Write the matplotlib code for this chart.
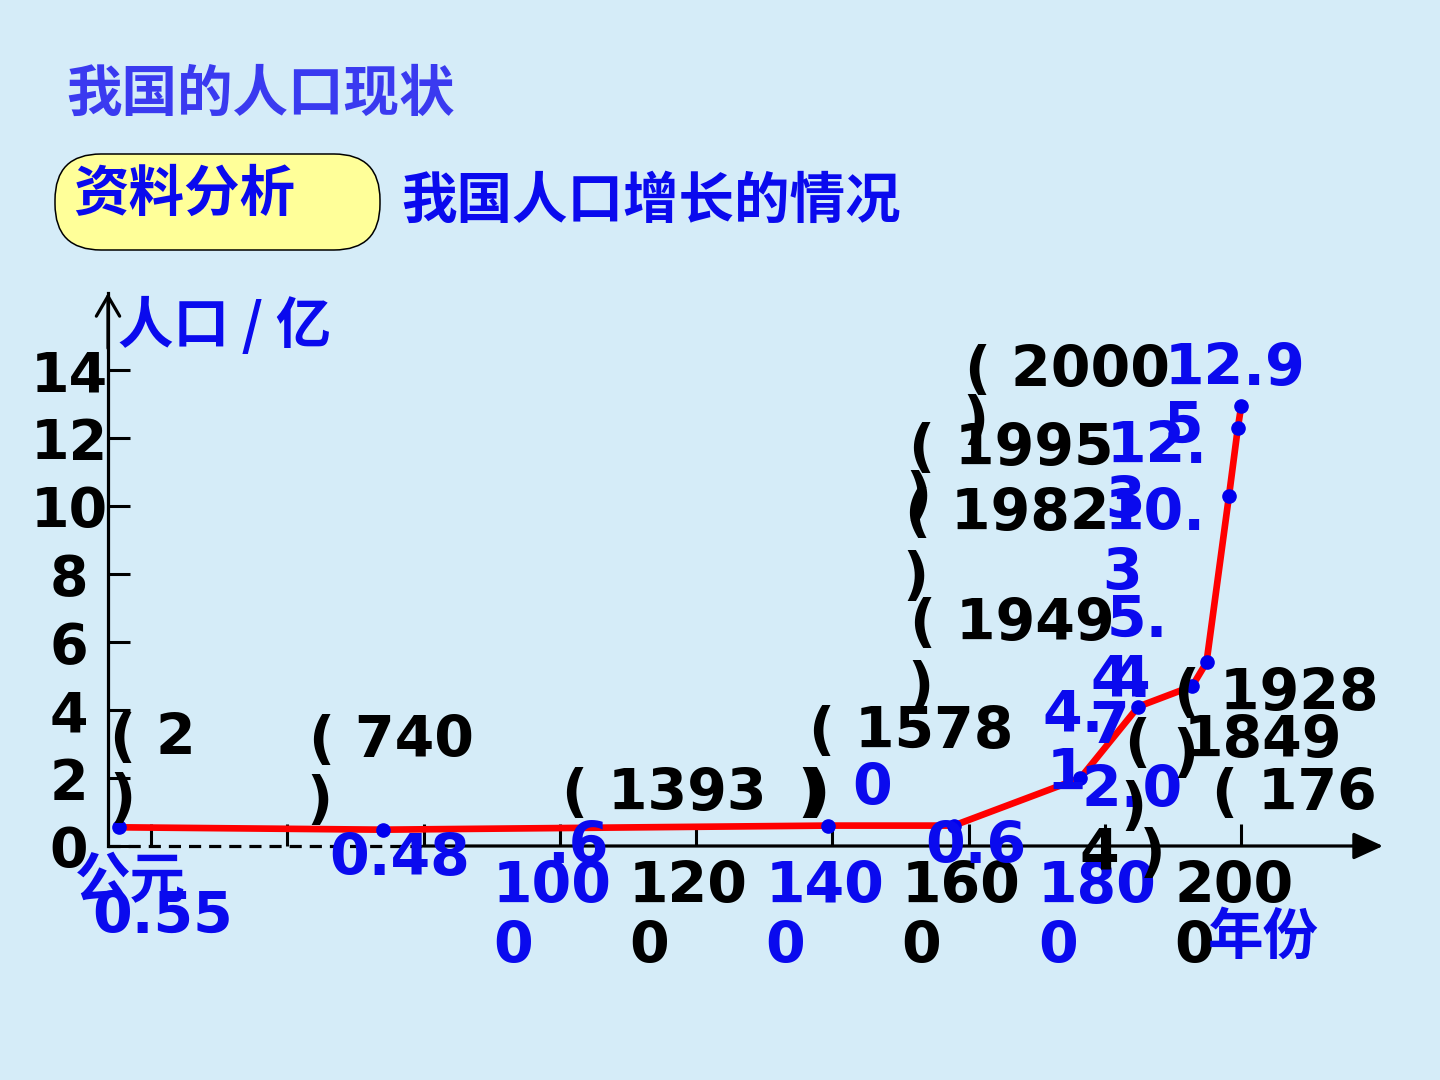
import numpy as np
import matplotlib
matplotlib.use("Agg")
import matplotlib.pyplot as plt
import matplotlib.transforms as mtransforms
from matplotlib.patches import FancyBboxPatch

# ---------------- data ----------------
years = [2, 740, 1393, 1578, 1764, 1849, 1928, 1949, 1982, 1995, 2000]
population = [0.55, 0.48, 0.6, 0.6, 2.0, 4.1, 4.7, 5.4, 10.3, 12.3, 12.95]
value_text = ["0.55", "0.48", "0.6", "0.6", "2.0", "4.1", "4.7", "5.4", "10.3", "12.3", "12.95"]
x_ticks = [400, 600, 800, 1000, 1200, 1400, 1600, 1800, 2000]
y_ticks = [0, 2, 4, 6, 8, 10, 12, 14]

title = "我国的人口现状"
box_text = "资料分析"
subtitle = "我国人口增长的情况"
y_label = "人口 / 亿"
x_label = "年份"
origin_label = "公元"

# ---------------- style / layout ----------------
W, H = 1440, 1080
BG = "#d5ecf8"
BLUE = "#0a0aee"
TITLE_BLUE = "#3a3af0"
CJK = ["Noto Sans CJK SC", "DejaVu Sans"]
NUM = ["DejaVu Sans"]
FS = 41
FS_Y = 40

plt.rcParams["font.family"] = CJK

fig = plt.figure(figsize=(W / 100, H / 100), dpi=100, facecolor=BG)


def fpx(x, y):
    return (x / W, 1 - y / H)


# axes placement (pixels of the slide)
L, R, T, B = 108, 1383, 293, 846
ax = fig.add_axes([L / W, 1 - B / H, (R - L) / W, (B - T) / H])
ax.set_facecolor("none")

# broken time axis: early years compressed
K = 0.1163


def fwd(x):
    x = np.asarray(x, dtype=float)
    return np.where(x >= 400, x, 400 - (400 - x) * K)


def inv(y):
    y = np.asarray(y, dtype=float)
    return np.where(y >= 400, y, 400 - (400 - y) / K)


ax.set_xscale("function", functions=(fwd, inv))
ax.set_xlim(400 - 63 / K, 2208)
ax.set_ylim(0, (B - T) / 34.0)

# spines / axis lines
for s in ["top", "right", "bottom"]:
    ax.spines[s].set_visible(False)
ax.spines["left"].set_linewidth(2.3)
ax.spines["left"].set_color("black")

xmin = ax.get_xlim()[0]
ax.plot([xmin, 800], [0, 0], color="black", lw=2.3, linestyle=(0, (3.8, 2.5)),
        clip_on=False, zorder=2)
ax.annotate("", xy=(1.0, 0), xycoords=("axes fraction", "data"),
            xytext=(800, 0), textcoords="data",
            arrowprops=dict(arrowstyle="-|>,head_length=0.7,head_width=0.32",
                            lw=2.3, color="black", mutation_scale=26,
                            shrinkA=0, shrinkB=0), zorder=2)
ax.annotate("", xy=(0, 1.0), xycoords="axes fraction",
            xytext=(0, 0.9), textcoords="axes fraction",
            arrowprops=dict(arrowstyle="->,head_length=0.6,head_width=0.35",
                            lw=2.3, color="black", mutation_scale=24,
                            shrinkA=0, shrinkB=0), zorder=2)

# ticks
ax.set_yticks(y_ticks, labels=[str(v) for v in y_ticks])
ax.tick_params(axis="y", direction="in", length=16, width=2.2, pad=28,
               labelsize=FS_Y, colors="black")
for lab in ax.get_yticklabels():
    lab.set_fontweight("bold")
    lab.set_family(NUM)
    lab.set_horizontalalignment("center")

xlabels = [("" if t < 1000 else str(t)[:3] + "\n" + str(t)[3:]) for t in x_ticks]
ax.set_xticks(x_ticks, labels=xlabels)
ax.tick_params(axis="x", direction="in", length=16, width=2.2, pad=10.0,
               labelsize=FS, bottom=True)
xcolors = {1000: BLUE, 1200: "black", 1400: BLUE, 1600: "black", 1800: BLUE, 2000: "black"}
shift = mtransforms.ScaledTranslation(-67 / 100, 0, fig.dpi_scale_trans)
for t, lab in zip(x_ticks, ax.get_xticklabels()):
    lab.set_fontweight("bold")
    lab.set_family(NUM)
    lab.set_horizontalalignment("left")
    lab.set_linespacing(1.12)
    lab.set_color(xcolors.get(t, "black"))
    lab.set_transform(lab.get_transform() + shift)
ax.minorticks_off()

# data line and points
ax.plot(years, population, color="#ff0000", lw=4.8, zorder=3, clip_on=False,
        solid_joinstyle="round")
ax.plot(years, population, linestyle="none", marker="o", markersize=9.5,
        color="#0000ee", zorder=4, clip_on=False)

# label pieces: (number of chars consumed, ink-left x px, visual-center y px)
year_pieces = {
    0: [(3, 113, 735), (2, 112, 795)],
    1: [(5, 312, 737), (2, 309, 797)],
    2: [(6, 565, 790), (2, 800, 790)],
    3: [(6, 812, 728), (2, 806, 790)],
    4: [(5, 1215, 790), (3, 1083, 850)],
    5: [(1, 1127, 740), (5, 1187, 737), (2, 1123, 803)],
    6: [(6, 1177, 690), (2, 1175, 750)],
    7: [(6, 913, 620), (2, 910, 683)],
    8: [(6, 908, 510), (2, 905, 573)],
    9: [(6, 912, 445), (2, 908, 493)],
    10: [(6, 968, 367), (2, 965, 417)],
}
value_pieces = {
    0: [(4, 95, 913)],
    1: [(4, 332, 855)],
    2: [(1, 855, 785), (2, 550, 843)],
    3: [(3, 928, 843)],
    4: [(3, 1085, 787)],
    5: [(2, 1045, 712), (1, 1050, 770)],
    6: [(2, 1093, 677), (1, 1092, 723)],
    7: [(2, 1110, 617), (1, 1113, 677)],
    8: [(3, 1108, 510), (1, 1105, 570)],
    9: [(3, 1110, 443), (1, 1108, 498)],
    10: [(4, 1168, 365), (1, 1167, 423)],
}


def put_pieces(i, full, pieces, color):
    pos = 0
    for n, x, y in pieces:
        piece = full[pos:pos + n].strip()
        pos += n
        if not piece:
            continue
        ax.annotate(piece, xy=(years[i], population[i]), xycoords="data",
                    xytext=fpx(x - 3, y + 20), textcoords="figure fraction",
                    ha="left", va="baseline", fontsize=FS, fontweight="bold",
                    family=NUM, color=color, zorder=5, annotation_clip=False)


for i, yr in enumerate(years):
    put_pieces(i, f"( {yr} )", year_pieces[i], "black")
    put_pieces(i, value_text[i], value_pieces[i], BLUE)

# CJK texts
def cjk(text, x, y, color=BLUE, size=40):
    fig.text(*fpx(x - 2, y + 21), text, ha="left", va="baseline", fontsize=size,
             fontweight="bold", family=CJK, color=color, zorder=6)


cjk(title, 68, 90, TITLE_BLUE)
box = FancyBboxPatch((55, H - 250), 325, 96,
                     boxstyle="round,pad=0,rounding_size=46",
                     transform=mtransforms.IdentityTransform(),
                     facecolor="#ffff99", edgecolor="black", lw=1.1, zorder=1)
fig.patches.append(box)
cjk(box_text, 75, 190)
cjk(subtitle, 403, 197)
cjk(y_label, 120, 322)
cjk(x_label, 1210, 933)
cjk(origin_label, 77, 877)

fig.savefig("out.png", dpi=100, facecolor=BG)
